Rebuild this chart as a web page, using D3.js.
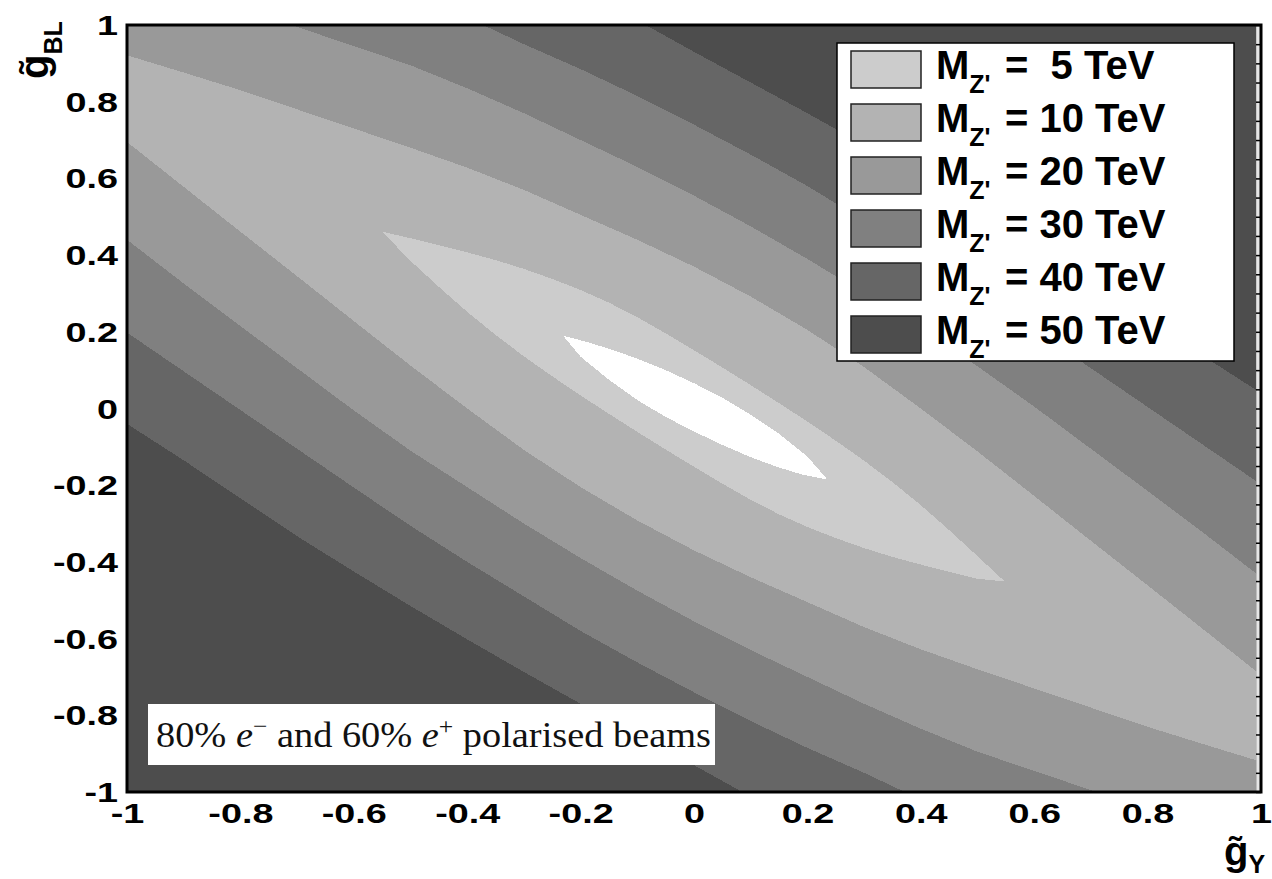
<!DOCTYPE html>
<html>
<head>
<meta charset="utf-8">
<script src="https://cdn.jsdelivr.net/npm/d3@7"></script>
<style>
  html, body { margin: 0; padding: 0; background: #ffffff; }
  svg { display: block; }
</style>
</head>
<body>
<svg id="chart" width="1272" height="879"></svg>
<script>
// Reach levels (TeV) and their fill shades
const levels = [5, 10, 20, 30, 40, 50];
const levelColors = ["#cccccc", "#b3b3b3", "#999999", "#808080", "#666666", "#4d4d4d"];
const belowLowestColor = "#ffffff";

// Axis ticks
const xTicks = [-1, -0.8, -0.6, -0.4, -0.2, 0, 0.2, 0.4, 0.6, 0.8, 1];
const xTickLabels = ["-1", "-0.8", "-0.6", "-0.4", "-0.2", "0", "0.2", "0.4", "0.6", "0.8", "1"];
const yTicks = [-1, -0.8, -0.6, -0.4, -0.2, 0, 0.2, 0.4, 0.6, 0.8, 1];
const yTickLabels = ["-1", "-0.8", "-0.6", "-0.4", "-0.2", "0", "0.2", "0.4", "0.6", "0.8", "1"];

// Regions where the reach stays below each level, as closed outlines in (g_Y, g_BL)
const below5 = [
  [-0.231, 0.190], [-0.19, 0.174], [-0.148, 0.155], [-0.1, 0.130], [-0.05, 0.100], [0, 0.066],
  [0.05, 0.028], [0.1, -0.016], [0.15, -0.066], [0.2, -0.125], [0.235, -0.185],
  [0.19, -0.172], [0.148, -0.153], [0.1, -0.127], [0.05, -0.095], [0, -0.06],
  [-0.05, -0.022], [-0.1, 0.022], [-0.15, 0.075], [-0.2, 0.135]
];
const below10 = [
  [-0.55, 0.461], [-0.5, 0.444], [-0.45, 0.426], [-0.4, 0.407], [-0.35, 0.387], [-0.3, 0.364],
  [-0.25, 0.338], [-0.2, 0.309], [-0.15, 0.276], [-0.1, 0.238], [-0.05, 0.196], [0, 0.152],
  [0.05, 0.107], [0.1, 0.061], [0.15, 0.014], [0.2, -0.034], [0.25, -0.084], [0.3, -0.136],
  [0.35, -0.192], [0.4, -0.252], [0.45, -0.317], [0.5, -0.385], [0.548, -0.451],
  [0.5, -0.444], [0.45, -0.426], [0.4, -0.407], [0.35, -0.387], [0.3, -0.364], [0.25, -0.338],
  [0.2, -0.309], [0.15, -0.276], [0.1, -0.238], [0.05, -0.196], [0, -0.152], [-0.05, -0.107],
  [-0.1, -0.061], [-0.15, -0.014], [-0.2, 0.034], [-0.25, 0.084], [-0.3, 0.136], [-0.35, 0.192],
  [-0.4, 0.252], [-0.45, 0.317], [-0.5, 0.385]
];
const below20 = [
  [-1, 0.921], [-0.9, 0.876], [-0.8, 0.83], [-0.7, 0.78], [-0.6, 0.73], [-0.5, 0.68],
  [-0.4, 0.628], [-0.3, 0.57], [-0.2, 0.505], [-0.1, 0.44], [0, 0.37], [0.1, 0.292],
  [0.2, 0.205], [0.3, 0.108], [0.4, 0.0], [0.5, -0.112], [0.6, -0.228], [0.7, -0.345],
  [0.8, -0.461], [0.9, -0.578], [1, -0.695],
  [1, -0.921], [0.9, -0.876], [0.8, -0.83], [0.7, -0.78], [0.6, -0.73], [0.5, -0.68],
  [0.4, -0.628], [0.3, -0.57], [0.2, -0.505], [0.1, -0.44], [0, -0.37], [-0.1, -0.292],
  [-0.2, -0.205], [-0.3, -0.108], [-0.4, 0.0], [-0.5, 0.112], [-0.6, 0.228], [-0.7, 0.345],
  [-0.8, 0.461], [-0.9, 0.578], [-1, 0.695]
];
const below30 = [
  [-0.71, 1], [-0.6, 0.945], [-0.5, 0.895], [-0.4, 0.835], [-0.3, 0.77], [-0.2, 0.70],
  [-0.1, 0.63], [0, 0.555], [0.1, 0.475], [0.2, 0.39], [0.3, 0.30], [0.4, 0.205],
  [0.5, 0.11], [0.6, 0.005], [0.7, -0.105], [0.8, -0.215], [0.9, -0.326], [1, -0.44],
  [1, -1],
  [0.71, -1], [0.6, -0.945], [0.5, -0.895], [0.4, -0.835], [0.3, -0.77], [0.2, -0.70],
  [0.1, -0.63], [0, -0.555], [-0.1, -0.475], [-0.2, -0.39], [-0.3, -0.30], [-0.4, -0.205],
  [-0.5, -0.11], [-0.6, -0.005], [-0.7, 0.105], [-0.8, 0.215], [-0.9, 0.326], [-1, 0.44],
  [-1, 1]
];
const below40 = [
  [-0.372, 1], [-0.3, 0.95], [-0.2, 0.885], [-0.1, 0.815], [0, 0.74], [0.1, 0.662],
  [0.2, 0.58], [0.3, 0.49], [0.4, 0.40], [0.5, 0.306], [0.6, 0.206], [0.7, 0.105],
  [0.8, 0.004], [0.9, -0.097], [1, -0.198],
  [1, -1],
  [0.372, -1], [0.3, -0.95], [0.2, -0.885], [0.1, -0.815], [0, -0.74], [-0.1, -0.662],
  [-0.2, -0.58], [-0.3, -0.49], [-0.4, -0.40], [-0.5, -0.306], [-0.6, -0.206], [-0.7, -0.105],
  [-0.8, -0.004], [-0.9, 0.097], [-1, 0.198],
  [-1, 1]
];
const below50 = [
  [-0.085, 1], [0, 0.93], [0.1, 0.85], [0.2, 0.77], [0.3, 0.687], [0.4, 0.602],
  [0.5, 0.515], [0.6, 0.425], [0.7, 0.333], [0.8, 0.234], [0.9, 0.135], [1, 0.04],
  [1, -1],
  [0.085, -1], [0, -0.93], [-0.1, -0.85], [-0.2, -0.77], [-0.3, -0.687], [-0.4, -0.602],
  [-0.5, -0.515], [-0.6, -0.425], [-0.7, -0.333], [-0.8, -0.234], [-0.9, -0.135], [-1, -0.04],
  [-1, 1]
];

const legendLabels = ["=  5 TeV", "= 10 TeV", "= 20 TeV", "= 30 TeV", "= 40 TeV", "= 50 TeV"];
const captionText = "polarised beams";

const svg = d3.select("#chart");
const x = d3.scaleLinear().domain([-1, 1]).range([127, 1261]);
const y = d3.scaleLinear().domain([-1, 1]).range([792, 25]);
const histRight = 0.992; // filled area stops just short of the right frame

const defs = svg.append("defs");
defs.append("clipPath").attr("id", "plotClip")
  .append("rect")
  .attr("x", x(-1)).attr("y", y(1))
  .attr("width", x(histRight) - x(-1)).attr("height", y(-1) - y(1));

const plot = svg.append("g").attr("clip-path", "url(#plotClip)");

// Outermost band: everything at or above the top level
plot.append("rect")
  .attr("x", x(-1)).attr("y", y(1))
  .attr("width", x(1) - x(-1)).attr("height", y(-1) - y(1))
  .attr("fill", levelColors[5]);

const outline = d3.line().x(d => x(d[0])).y(d => y(d[1])).curve(d3.curveLinearClosed);
const regions = [
  { pts: below50, fill: levelColors[4] },
  { pts: below40, fill: levelColors[3] },
  { pts: below30, fill: levelColors[2] },
  { pts: below20, fill: levelColors[1] },
  { pts: below10, fill: levelColors[0] },
  { pts: below5, fill: belowLowestColor }
];
plot.selectAll("path.region").data(regions).join("path")
  .attr("class", "region")
  .attr("d", d => outline(d.pts))
  .attr("fill", d => d.fill)
  .attr("stroke", "none")
  .attr("shape-rendering", "crispEdges");

// Uncovered strip at the right edge, with the mirrored axis ticks
svg.append("rect")
  .attr("x", x(histRight)).attr("y", y(1))
  .attr("width", x(1) - x(histRight)).attr("height", y(-1) - y(1))
  .attr("fill", "#e6e6e6");

const rightTicks = svg.append("g")
  .attr("transform", `translate(${x(1)},0)`)
  .call(d3.axisLeft(y).tickValues(d3.range(-20, 21).map(i => i / 20)).tickSize(5).tickFormat(""));
rightTicks.select(".domain").remove();
rightTicks.selectAll("line").attr("stroke", "#000").attr("stroke-width", 1.5);

// Frame
svg.append("rect")
  .attr("x", x(-1)).attr("y", y(1))
  .attr("width", x(1) - x(-1)).attr("height", y(-1) - y(1))
  .attr("fill", "none").attr("stroke", "#000").attr("stroke-width", 3);

const tickFont = "'Liberation Sans', Arial, Helvetica, sans-serif";

// Left axis labels
const yAxis = svg.append("g")
  .attr("transform", `translate(${x(-1)},0)`)
  .call(d3.axisLeft(y).tickValues(yTicks).tickSize(0).tickPadding(0)
    .tickFormat((d, i) => yTickLabels[i]));
yAxis.select(".domain").remove();
yAxis.selectAll("text")
  .attr("x", 0).attr("dy", null)
  .attr("transform", "translate(-9,9.5) scale(1.4,1)")
  .style("font-family", tickFont).style("font-weight", "bold")
  .style("font-size", "27px").attr("fill", "#000");

// Bottom axis labels
const xAxis = svg.append("g")
  .attr("transform", `translate(0,${y(-1)})`)
  .call(d3.axisBottom(x).tickValues(xTicks).tickSize(0).tickPadding(0)
    .tickFormat((d, i) => xTickLabels[i]));
xAxis.select(".domain").remove();
xAxis.selectAll("text")
  .attr("y", 0).attr("dy", null)
  .attr("transform", "translate(0,31) scale(1.4,1)")
  .style("font-family", tickFont).style("font-weight", "bold")
  .style("font-size", "27px").attr("fill", "#000");

// Axis titles
const xTitle = svg.append("text")
  .attr("transform", "translate(1224,865)")
  .style("font-family", tickFont).style("font-weight", "bold")
  .style("font-size", "40px").attr("fill", "#000");
xTitle.append("tspan").text("g\u0303");
xTitle.append("tspan").attr("dy", 8).style("font-size", "25px").text("Y");

const yTitle = svg.append("text")
  .attr("transform", "translate(48,79) rotate(-90)")
  .style("font-family", tickFont).style("font-weight", "bold")
  .style("font-size", "40px").attr("fill", "#000");
yTitle.append("tspan").text("g\u0303");
yTitle.append("tspan").attr("dy", 14).style("font-size", "25px").text("BL");

// Legend
const legend = svg.append("g");
legend.append("rect")
  .attr("x", 837).attr("y", 43).attr("width", 397).attr("height", 318)
  .attr("fill", "#fff").attr("stroke", "#000").attr("stroke-width", 1.5);
const rows = legend.selectAll("g.row").data(levels).join("g")
  .attr("class", "row")
  .attr("transform", (d, i) => `translate(851,${51 + i * 53})`);
rows.append("rect")
  .attr("width", 70).attr("height", 37)
  .attr("fill", (d, i) => levelColors[i])
  .attr("stroke", "#222").attr("stroke-width", 1.5);
const lt = rows.append("text")
  .attr("x", 85).attr("y", 28)
  .style("font-family", tickFont).style("font-weight", "bold")
  .style("font-size", "40px").style("white-space", "pre").attr("fill", "#000");
lt.append("tspan").text("M");
lt.append("tspan").attr("dy", 14).style("font-size", "25px").text("Z'");
lt.append("tspan").attr("x", 154).attr("dy", -14).text((d, i) => legendLabels[i]);

// Beam polarisation caption
const cap = svg.append("g");
cap.append("rect").attr("x", 148).attr("y", 704).attr("width", 567).attr("height", 61).attr("fill", "#fff");
const ct = cap.append("text")
  .attr("x", 156).attr("y", 747)
  .attr("textLength", 555).attr("lengthAdjust", "spacingAndGlyphs")
  .style("font-family", "'Liberation Serif', 'DejaVu Serif', serif")
  .style("font-size", "36px").style("white-space", "pre").attr("fill", "#111");
ct.append("tspan").text("80% ");
ct.append("tspan").style("font-style", "italic").text("e");
ct.append("tspan").attr("dy", -13).style("font-size", "24px").text("\u2212");
ct.append("tspan").attr("dy", 13).text(" and 60% ");
ct.append("tspan").style("font-style", "italic").text("e");
ct.append("tspan").attr("dy", -13).style("font-size", "24px").text("+");
ct.append("tspan").attr("dy", 13).text(" " + captionText);
</script>
</body>
</html>
